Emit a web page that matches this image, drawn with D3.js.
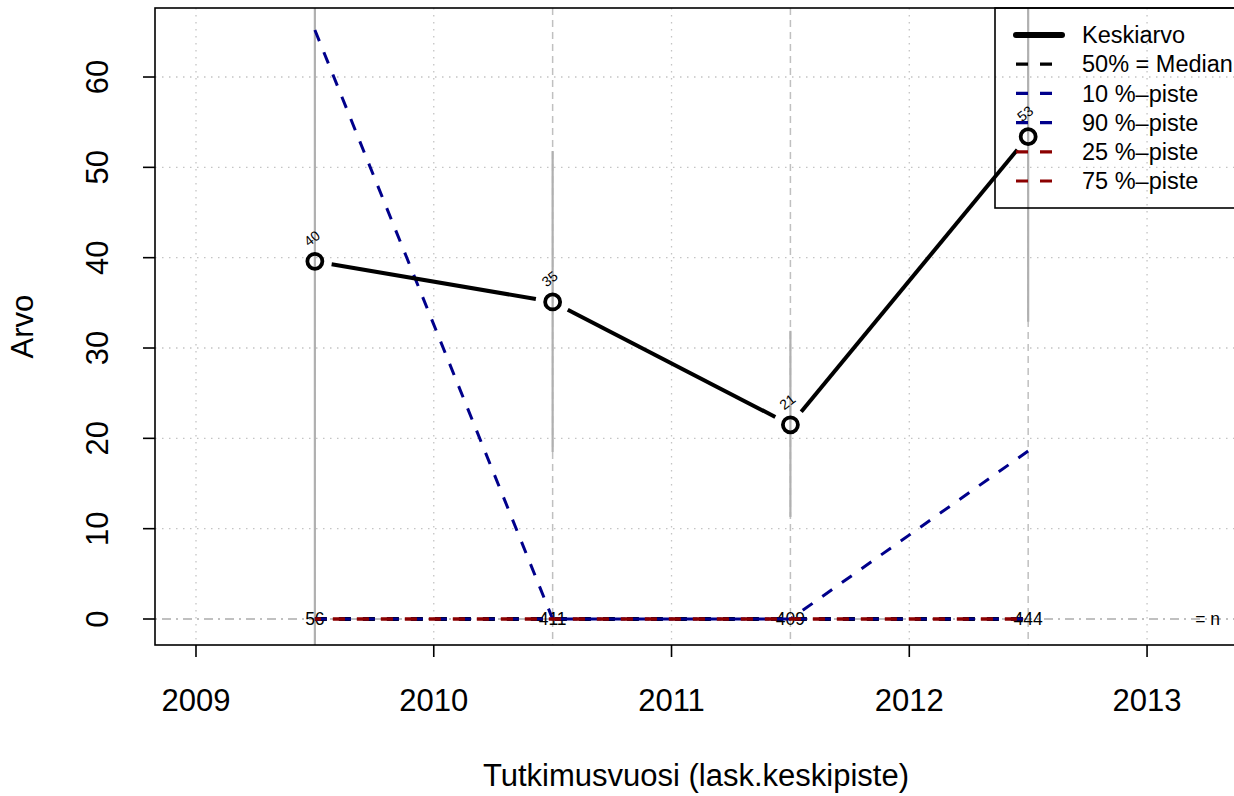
<!DOCTYPE html>
<html>
<head>
<meta charset="utf-8">
<script src="https://cdn.jsdelivr.net/npm/d3@7"></script>
<style>
  html, body { margin: 0; padding: 0; background: #fff; }
  svg { display: block; font-family: "Liberation Sans", Arial, sans-serif; }
</style>
</head>
<body>
<svg id="chart" width="1234" height="796"></svg>
<script>
// ---- data ----
const years = [2009.5, 2010.5, 2011.5, 2012.5];
const nValues = [56, 411, 409, 444];
const meanValues = [39.6, 35.1, 21.5, 53.4];
const meanLabels = ["40", "35", "21", "53"];
const medianValues = [0, 0, 0, 0];
const p10Values = [0, 0, 0, 0];
const p90Values = [65.2, 0, 0, 18.6];
const p25Values = [0, 0, 0, 0];
const p75Values = [0, 0, 0, 0];
const errLow = [-5.5, 18.5, 11.3, 32.9];
const errHigh = [84.7, 51.8, 31.9, 73.9];
const xTicks = [2009, 2010, 2011, 2012, 2013];
const yTicks = [0, 10, 20, 30, 40, 50, 60];
const legendLabels = ["Keskiarvo", "50% = Median", "10 %\u2013piste", "90 %\u2013piste", "25 %\u2013piste", "75 %\u2013piste"];

const svg = d3.select("#chart");
const L = 155, R = 1239, T = 8, B = 645;
const x = d3.scaleLinear().domain([2008.8276, 2013.3867]).range([L, R]);
const y = d3.scaleLinear().domain([-2.878, 67.64]).range([B, T]);

svg.append("rect").attr("width", 1234).attr("height", 796).attr("fill", "#fff");

svg.append("defs").append("clipPath").attr("id", "plotclip")
  .append("rect").attr("x", L).attr("y", T).attr("width", R - L).attr("height", B - T);

const plot = svg.append("g").attr("clip-path", "url(#plotclip)");

// dotted grid
plot.selectAll(".gx").data(xTicks).enter().append("line")
  .attr("x1", d => x(d)).attr("x2", d => x(d)).attr("y1", T).attr("y2", B)
  .attr("stroke", "#c4c4c4").attr("stroke-width", 1.3).attr("stroke-dasharray", "1.5,5.5");
plot.selectAll(".gy").data(yTicks.filter(d => d !== 0)).enter().append("line")
  .attr("x1", L).attr("x2", R).attr("y1", d => y(d)).attr("y2", d => y(d))
  .attr("stroke", "#c4c4c4").attr("stroke-width", 1.3).attr("stroke-dasharray", "1.5,5.5");

// dashed verticals at data years
plot.selectAll(".vd").data(years).enter().append("line")
  .attr("x1", d => x(d)).attr("x2", d => x(d)).attr("y1", T).attr("y2", B)
  .attr("stroke", "#c0c0c0").attr("stroke-width", 1.5).attr("stroke-dasharray", "7,5");

// dash-dot zero line
plot.append("line").attr("x1", L).attr("x2", R).attr("y1", y(0)).attr("y2", y(0))
  .attr("stroke", "#c0c0c0").attr("stroke-width", 2).attr("stroke-dasharray", "2,5,9,5");

// error bars
plot.selectAll(".eb").data(years).enter().append("line")
  .attr("x1", d => x(d)).attr("x2", d => x(d))
  .attr("y1", (d, i) => y(errLow[i])).attr("y2", (d, i) => y(errHigh[i]))
  .attr("stroke", "#b0b0b0").attr("stroke-width", 2.2);

// n labels
plot.selectAll(".nl").data(years).enter().append("text")
  .attr("x", d => x(d)).attr("y", y(0)).attr("dy", "0.35em")
  .attr("text-anchor", "middle").attr("font-size", 17.5).attr("fill", "#000")
  .text((d, i) => nValues[i]);
plot.append("text").attr("x", 1220).attr("y", y(0)).attr("dy", "0.35em")
  .attr("text-anchor", "end").attr("font-size", 17.5).text("= n");

// percentile lines
const pts = vals => years.map((d, i) => [x(d), y(vals[i])]);
const lineGen = d3.line();
const pctSeries = [
  { vals: medianValues, color: "#000000", w: 4, dash: "12,12", off: 0 },
  { vals: p10Values, color: "#00008B", w: 3, dash: "12,12", off: 0 },
  { vals: p90Values, color: "#00008B", w: 3, dash: "12,12", off: 0 },
  { vals: p25Values, color: "#8B0000", w: 3.2, dash: "12,12", off: 6 },
  { vals: p75Values, color: "#8B0000", w: 3.2, dash: "12,12", off: 6 }
];
pctSeries.forEach(s => {
  plot.append("path").attr("d", lineGen(pts(s.vals)))
    .attr("fill", "none").attr("stroke", s.color).attr("stroke-width", s.w)
    .attr("stroke-dasharray", s.dash).attr("stroke-dashoffset", s.off);
});

// mean line (type "b": gaps around points)
const mp = pts(meanValues);
const gap = 17;
for (let i = 0; i < mp.length - 1; i++) {
  const [x1, y1] = mp[i], [x2, y2] = mp[i + 1];
  const len = Math.hypot(x2 - x1, y2 - y1);
  const ux = (x2 - x1) / len, uy = (y2 - y1) / len;
  plot.append("line")
    .attr("x1", x1 + ux * gap).attr("y1", y1 + uy * gap)
    .attr("x2", x2 - ux * gap).attr("y2", y2 - uy * gap)
    .attr("stroke", "#000").attr("stroke-width", 4).attr("stroke-linecap", "butt");
}
plot.selectAll(".mc").data(mp).enter().append("circle")
  .attr("cx", d => d[0]).attr("cy", d => d[1]).attr("r", 7.5)
  .attr("fill", "none").attr("stroke", "#000").attr("stroke-width", 3.8);
plot.selectAll(".ml").data(mp).enter().append("text")
  .attr("transform", d => `translate(${d[0] - 3},${d[1] - 23}) rotate(-38)`)
  .attr("text-anchor", "middle").attr("dy", "0.35em")
  .attr("font-size", 14).attr("fill", "#000")
  .text((d, i) => meanLabels[i]);

// box
svg.append("rect").attr("x", L).attr("y", T).attr("width", R - L).attr("height", B - T)
  .attr("fill", "none").attr("stroke", "#000").attr("stroke-width", 1.6);

// axes
const xAxis = svg.append("g");
xAxis.selectAll("line").data(xTicks).enter().append("line")
  .attr("x1", d => x(d)).attr("x2", d => x(d)).attr("y1", B).attr("y2", B + 12)
  .attr("stroke", "#000").attr("stroke-width", 1.6);
xAxis.selectAll("text").data(xTicks).enter().append("text")
  .attr("x", d => x(d)).attr("y", 711).attr("text-anchor", "middle")
  .attr("font-size", 31).text(d => d);

const yAxis = svg.append("g");
yAxis.selectAll("line").data(yTicks).enter().append("line")
  .attr("x1", L - 12).attr("x2", L).attr("y1", d => y(d)).attr("y2", d => y(d))
  .attr("stroke", "#000").attr("stroke-width", 1.6);
yAxis.selectAll("text").data(yTicks).enter().append("text")
  .attr("transform", d => `translate(108,${y(d)}) rotate(-90)`)
  .attr("text-anchor", "middle").attr("font-size", 31).text(d => d);

svg.append("text").attr("x", (L + R) / 2 - 1).attr("y", 786).attr("text-anchor", "middle")
  .attr("font-size", 31).text("Tutkimusvuosi (lask.keskipiste)");
svg.append("text").attr("transform", `translate(33,${(T + B) / 2}) rotate(-90)`)
  .attr("text-anchor", "middle").attr("font-size", 31).text("Arvo");

// legend
const lg = svg.append("g");
lg.append("rect").attr("x", 995).attr("y", T).attr("width", 400).attr("height", 200)
  .attr("fill", "none").attr("stroke", "#000").attr("stroke-width", 1.6);
const legStyles = [
  { color: "#000", w: 6, dash: null },
  { color: "#000", w: 3.2, dash: "12,12" },
  { color: "#00008B", w: 3.2, dash: "12,12" },
  { color: "#00008B", w: 3.2, dash: "12,12" },
  { color: "#8B0000", w: 3.2, dash: "12,12" },
  { color: "#8B0000", w: 3.2, dash: "12,12" }
];
legendLabels.forEach((lab, i) => {
  const yy = 35 + i * 29.2;
  const st = legStyles[i];
  const ln = lg.append("line").attr("x1", 1016).attr("x2", 1062).attr("y1", yy).attr("y2", yy)
    .attr("stroke", st.color).attr("stroke-width", st.w)
    .attr("stroke-linecap", st.dash ? "butt" : "round");
  if (st.dash) ln.attr("stroke-dasharray", st.dash);
  lg.append("text").attr("x", 1082).attr("y", yy).attr("dy", "0.35em")
    .attr("font-size", 23.5).text(lab);
});
</script>
</body>
</html>
